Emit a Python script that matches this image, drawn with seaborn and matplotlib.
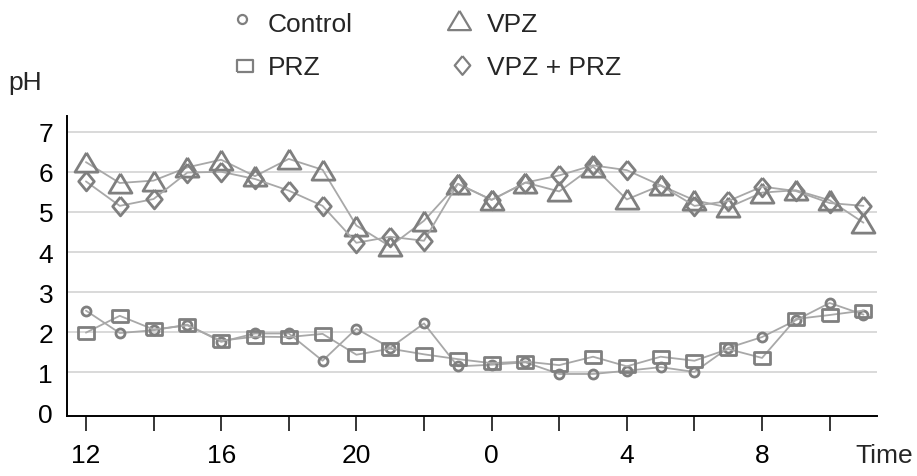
import numpy as np
import pandas as pd
import matplotlib
matplotlib.use("Agg")
import matplotlib.pyplot as plt
from matplotlib.lines import Line2D
import seaborn as sns

# ---- data ----
hours = [12, 13, 14, 15, 16, 17, 18, 19, 20, 21, 22, 23,
         0, 1, 2, 3, 4, 5, 6, 7, 8, 9, 10, 11]
control = [2.54, 1.98, 2.05, 2.19, 1.76, 1.97, 1.97, 1.29, 2.09, 1.61, 2.22, 1.15,
           1.19, 1.25, 0.96, 0.96, 1.04, 1.13, 1.01, 1.61, 1.88, 2.30, 2.73, 2.44]
prz = [1.99, 2.41, 2.07, 2.17, 1.79, 1.89, 1.88, 1.96, 1.44, 1.59, 1.45, 1.33,
       1.23, 1.27, 1.18, 1.39, 1.15, 1.39, 1.29, 1.58, 1.36, 2.33, 2.43, 2.54]
vpz = [6.24, 5.72, 5.78, 6.11, 6.30, 5.89, 6.32, 6.05, 4.66, 4.14, 4.78, 5.70,
       5.30, 5.73, 5.51, 6.13, 5.31, 5.66, 5.29, 5.11, 5.48, 5.54, 5.29, 4.73]
vpz_prz = [5.76, 5.15, 5.32, 5.98, 6.00, 5.82, 5.53, 5.15, 4.23, 4.38, 4.28, 5.70,
           5.30, 5.73, 5.91, 6.16, 6.04, 5.66, 5.15, 5.27, 5.63, 5.52, 5.22, 5.15]
series_names = ["Control", "PRZ", "VPZ", "VPZ + PRZ"]
x_tick_labels = ["12", "", "16", "", "20", "", "0", "", "4", "", "8", ""]
y_ticks = [0, 1, 2, 3, 4, 5, 6, 7]

# ---- style ----
sns.set_theme(style="white")
plt.rcParams["font.family"] = ["Liberation Sans", "DejaVu Sans"]

LINE_C = "#a8a8a8"
MARK_C = "#7f7f7f"
GRID_C = "#d9d9d9"
FS = 19

tri = [(0, 0.84), (-1, -0.84), (1, -0.84), (0, 0.84)]
dia = [(0, 1), (0.83, 0), (0, -1), (-0.83, 0), (0, 1)]
rect = [(-1, -0.7), (1, -0.7), (1, 0.7), (-1, 0.7), (-1, -0.7)]
marker_spec = {
    "Control": ("o", 6.5),
    "PRZ": (rect, 12.2),
    "VPZ": (tri, 16.5),
    "VPZ + PRZ": (dia, 13.5),
}

df = pd.DataFrame({
    "pos": np.arange(len(hours)),
    "hour": hours,
    "Control": control,
    "PRZ": prz,
    "VPZ": vpz,
    "VPZ + PRZ": vpz_prz,
})

W, H = 917, 477
fig = plt.figure(figsize=(W / 100, H / 100), dpi=100)
ax = fig.add_axes([67 / W, 1 - 416.7 / H, (877 - 67) / W, (416.7 - 117) / H])

for v in y_ticks[1:]:
    ax.axhline(v, color=GRID_C, lw=1.4, zorder=0)

for name in series_names:
    mk, ms = marker_spec[name]
    sns.lineplot(data=df, x="pos", y=name, ax=ax, color=LINE_C, lw=1.3,
                 marker=mk, markersize=ms, markerfacecolor="none",
                 markeredgecolor=MARK_C, markeredgewidth=2.0, zorder=3)

ax.set_xlim(-0.56, 23.4)
ax.set_ylim(-0.08, 7.39)
ax.set_xticks(np.arange(0, 24, 2))
ax.set_xticklabels(x_tick_labels)
ax.set_yticks(y_ticks)
ax.set_yticklabels([str(v) for v in y_ticks])
ax.set_xlabel("")
ax.set_ylabel("")
ax.tick_params(axis="x", length=10.8, width=1.1, color="black", pad=9,
               labelsize=FS, labelcolor="black", direction="out", bottom=True)
ax.tick_params(axis="y", length=0, pad=10, labelsize=FS, labelcolor="black", left=False)
for s in ["top", "right"]:
    ax.spines[s].set_visible(False)
for s in ["left", "bottom"]:
    ax.spines[s].set_color("black")
    ax.spines[s].set_linewidth(1.4)
ax.grid(False)

fig.text(855 / W, 1 - 463 / H, "Time", fontsize=FS, ha="left", va="baseline")
fig.text(8 / W, 1 - 90 / H, "pH", fontsize=FS, ha="left", va="baseline")

# ---- legend (manual grid) ----
leg = [
    ("Control", 242, 20, 268, 32),
    ("PRZ", 245, 66.7, 268, 75),
    ("VPZ", 459, 21, 487, 32),
    ("VPZ + PRZ", 462, 66, 487, 75),
]
for name, mx, my, tx, ty in leg:
    mk, ms = marker_spec[name]
    fig.add_artist(Line2D([mx / W], [1 - my / H], transform=fig.transFigure,
                          marker=mk, markersize=ms, markerfacecolor="none",
                          markeredgecolor=MARK_C, markeredgewidth=1.6, linestyle="none"))
    fig.text(tx / W, 1 - ty / H, name, fontsize=FS, ha="left", va="baseline")

fig.savefig("out.png", dpi=100)
